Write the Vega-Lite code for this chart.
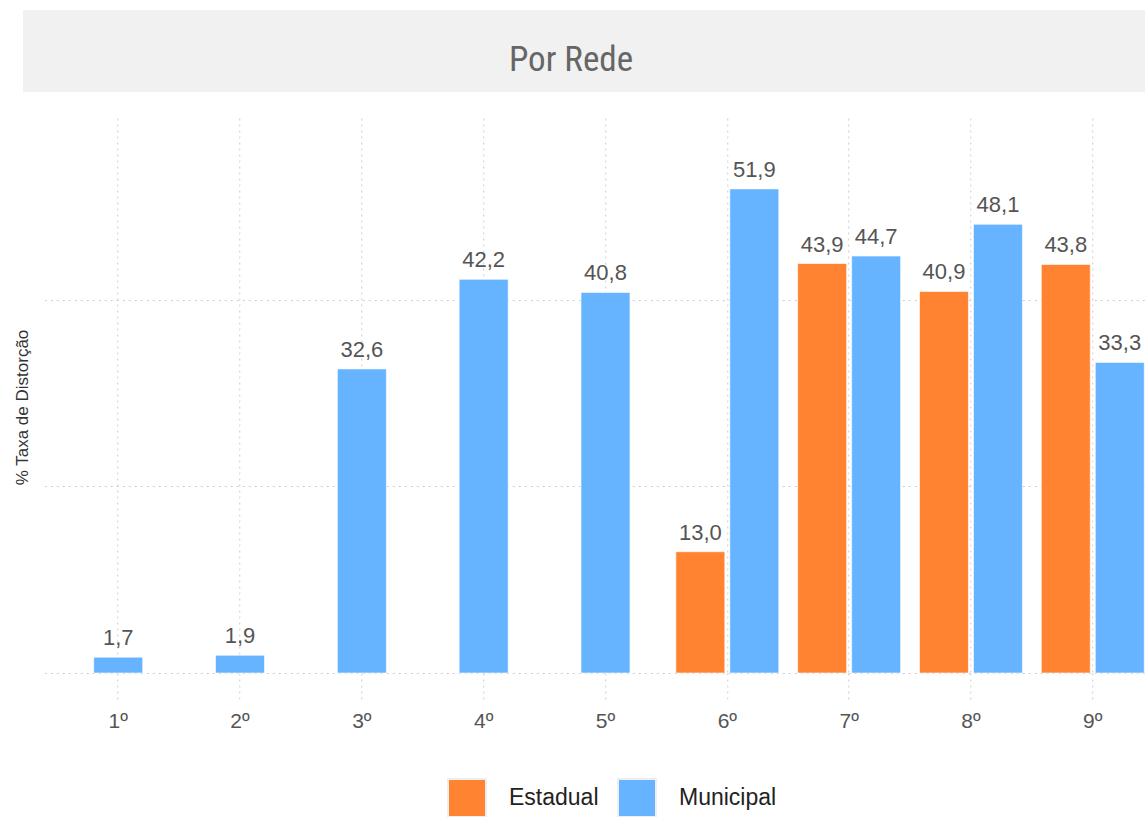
{
  "$schema": "https://vega.github.io/schema/vega-lite/v6.json",
  "padding": {"left": 13, "top": 10, "right": 0, "bottom": 0},
  "center": true,
  "spacing": 26,
  "config": {
    "locale": {"number": {"decimal": ",", "thousands": ".", "grouping": [3], "currency": ["R$", ""]}},
    "font": "Liberation Sans"
  },
  "vconcat": [
    {
      "width": 1143,
      "height": 82,
      "view": {"fill": "#f1f1f1", "stroke": null},
      "data": {"values": [{"titulo": "Por Rede"}]},
      "mark": {"type": "text", "font": "Roboto Condensed, DejaVu Sans Condensed, Roboto", "fontSize": 35, "color": "#666666", "dx": -23.5, "dy": 9, "baseline": "middle", "align": "center"},
      "encoding": {"text": {"field": "titulo"}}
    },
    {
      "width": 1100,
      "height": 555,
      "view": {"stroke": null},
      "data": {"values": [
        {"serie": "1º", "rede": "Municipal", "valor": 1.7},
        {"serie": "2º", "rede": "Municipal", "valor": 1.9},
        {"serie": "3º", "rede": "Municipal", "valor": 32.6},
        {"serie": "4º", "rede": "Municipal", "valor": 42.2},
        {"serie": "5º", "rede": "Municipal", "valor": 40.8},
        {"serie": "6º", "rede": "Estadual", "valor": 13.0},
        {"serie": "6º", "rede": "Municipal", "valor": 51.9},
        {"serie": "7º", "rede": "Estadual", "valor": 43.9},
        {"serie": "7º", "rede": "Municipal", "valor": 44.7},
        {"serie": "8º", "rede": "Estadual", "valor": 40.9},
        {"serie": "8º", "rede": "Municipal", "valor": 48.1},
        {"serie": "9º", "rede": "Estadual", "valor": 43.8},
        {"serie": "9º", "rede": "Municipal", "valor": 33.3}
      ]},
      "transform": [{"joinaggregate": [{"op": "count", "as": "n"}], "groupby": ["serie"]}],
      "encoding": {
        "x": {
          "field": "serie", "type": "nominal", "sort": null,
          "scale": {"paddingInner": 0.155, "paddingOuter": 0.0923, "align": 1},
          "axis": {"title": null, "domain": false, "ticks": true, "tickSize": 27, "tickColor": "#cccccc", "tickDash": [2, 4], "tickWidth": 1,
                   "grid": true, "gridColor": "#cccccc", "gridDash": [2, 4], "labelFontSize": 21, "labelColor": "#555555", "labelPadding": 10, "labelAngle": 0}
        },
        "y": {
          "field": "valor", "type": "quantitative",
          "scale": {"domain": [0, 59.5], "nice": false},
          "axis": {"title": "% Taxa de Distorção", "values": [0, 20, 40], "labels": false, "ticks": false, "domain": false,
                   "grid": true, "gridColor": "#cccccc", "gridDash": [2, 4], "titleFontSize": 17, "titleFontWeight": "normal", "titleColor": "#333333", "titlePadding": 13, "titleY": 289}
        },
        "color": {
          "field": "rede", "type": "nominal",
          "scale": {"domain": ["Estadual", "Municipal"], "range": ["#ff8330", "#66b3ff"]},
          "legend": {"orient": "none", "legendX": 424, "legendY": 768, "direction": "horizontal", "title": null,
                     "symbolType": "square", "symbolSize": 1444, "symbolStrokeColor": "#eeeeee", "symbolStrokeWidth": 2, "symbolOpacity": 1,
                     "labelFontSize": 23, "labelColor": "#222222", "labelOffset": 22, "columnPadding": 15}
        }
      },
      "layer": [
        {
          "transform": [{"filter": "datum.n == 1"}],
          "layer": [
            {"mark": {"type": "bar", "width": {"band": 0.476}, "stroke": "#ffffff", "strokeOpacity": 0.6, "strokeWidth": 1}},
            {"mark": {"type": "text", "fontSize": 22, "baseline": "alphabetic", "dy": -12},
             "encoding": {"text": {"field": "valor", "type": "quantitative", "format": ".1f"}, "color": {"value": "#555555"}}}
          ]
        },
        {
          "transform": [{"filter": "datum.n == 2"}],
          "encoding": {"xOffset": {"field": "rede", "type": "nominal", "scale": {"domain": ["Estadual", "Municipal"], "paddingInner": 0.093}}},
          "layer": [
            {"mark": {"type": "bar", "stroke": "#ffffff", "strokeOpacity": 0.6, "strokeWidth": 1}},
            {"mark": {"type": "text", "fontSize": 22, "baseline": "alphabetic", "dy": -12},
             "encoding": {"text": {"field": "valor", "type": "quantitative", "format": ".1f"}, "color": {"value": "#555555"}}}
          ]
        }
      ]
    }
  ]
}
